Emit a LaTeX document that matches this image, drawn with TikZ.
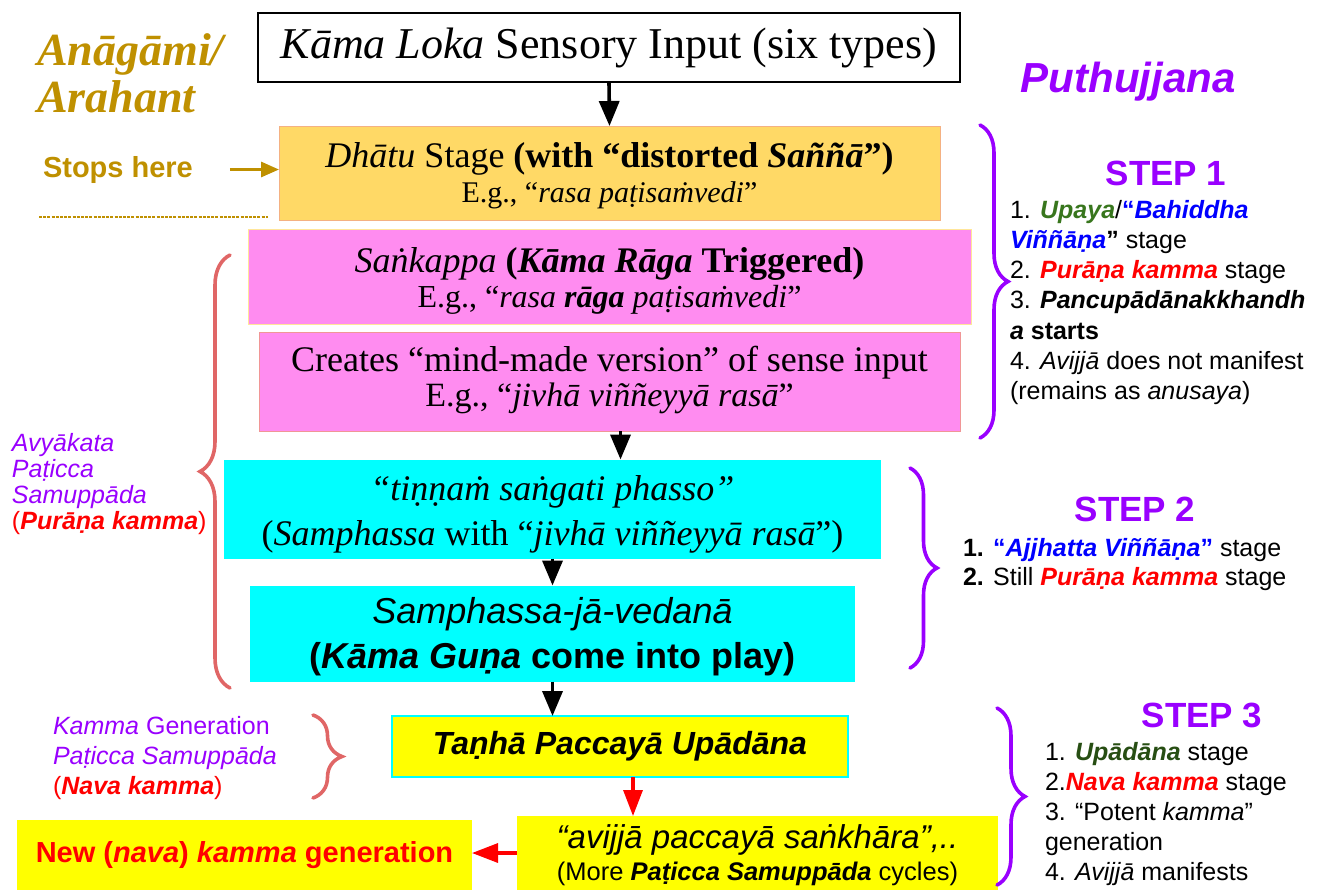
\documentclass[tikz,border=0pt]{standalone}
\usepackage{fontspec}
\setmainfont{Liberation Serif}
\setsansfont{Liberation Sans}
\usetikzlibrary{arrows.meta,decorations.pathreplacing}
\definecolor{gold}{RGB}{191,144,0}
\definecolor{dhatufill}{RGB}{255,217,102}
\definecolor{dhatuborder}{RGB}{244,177,131}
\definecolor{pinkfill}{RGB}{255,140,240}
\definecolor{sankborder}{RGB}{255,230,153}
\definecolor{createsborder}{RGB}{240,150,150}
\definecolor{cyanfill}{RGB}{0,255,255}
\definecolor{yel}{RGB}{255,255,0}
\definecolor{purp}{RGB}{153,0,255}
\definecolor{salmon}{RGB}{224,102,102}
\definecolor{dkgreen}{RGB}{56,118,29}
\definecolor{dkgreenb}{RGB}{39,78,19}
\definecolor{pureblue}{RGB}{0,0,255}
\definecolor{purered}{RGB}{255,0,0}
\newcommand\fs[2]{\fontsize{#1}{#2}\selectfont}
\newcommand\bi[1]{\textbf{\textit{#1}}}
\newcommand\rowsC[1]{\begin{tabular}{@{}c@{}}#1\end{tabular}}
\newcommand\rowsL[1]{\begin{tabular}[t]{@{}l@{}}#1\end{tabular}}
\begin{document}
\begin{tikzpicture}[x=1pt,y=-1pt,
  box/.style={rectangle, inner sep=0pt, outer sep=0pt, line width=1pt},
  arr/.style={line width=3.6pt, -{Triangle[length=25pt,width=20pt]}},
  redarr/.style={line width=3.3pt, draw=purered, -{Triangle[length=26pt,width=19pt]}},
  goldarr/.style={line width=3pt, draw=gold, -{Triangle[length=18pt,width=15pt]}},
  brc/.style={decorate, decoration={brace, amplitude=#1}, line width=3.6pt, line cap=round},
  lbl/.style={inner sep=0pt, outer sep=0pt},
]
\useasboundingbox (0,0) rectangle (1321,892);

% ---------- central flow ----------
\node[box, draw=black, line width=2.6pt, fill=white, minimum width=702pt, minimum height=69pt,
      font=\fs{44}{50}] (top) at (609,47.5) {\textit{Kāma Loka} Sensory Input (six types)};

\node[box, draw=dhatuborder, fill=dhatufill, minimum width=661pt, minimum height=94pt,
      font=\fs{36}{34.5}] (dhatu) at (609.5,173)
  {\rowsC{\rule{0pt}{34pt}\textit{Dhātu} Stage \textbf{(with “distorted \textit{Saññā}”)}\\
          \fs{30}{34.5}E.g., “\textit{rasa paṭisaṁvedi}”}};

\node[box, draw=sankborder, fill=pinkfill, minimum width=723pt, minimum height=95pt,
      font=\fs{36}{35}] (sank) at (609.5,276.5)
  {\rowsC{\rule{0pt}{36.5pt}\textit{Saṅkappa} \textbf{(\textit{Kāma Rāga} Triggered)}\\
          \fs{32}{35}E.g., “\textit{rasa \textbf{rāga} paṭisaṁvedi}”}};

\node[box, draw=createsborder, fill=pinkfill, minimum width=701pt, minimum height=99pt,
      font=\fs{36}{35}] (creates) at (609.5,381.5)
  {\rowsC{Creates “mind-made version” of sense input\\
          \fs{34}{35}E.g., “\textit{jivhā viññeyyā rasā}”}};

\node[box, fill=cyanfill, minimum width=657pt, minimum height=90pt,
      font=\fs{36}{45}] (cyan1) at (552.5,509)
  {\rowsC{\rule{0pt}{40.5pt}\textit{“tiṇṇaṁ saṅgati phasso”}\\
          (\textit{Samphassa} with “\textit{jivhā viññeyyā rasā}”)}};

\node[box, fill=cyanfill, minimum width=605pt, minimum height=79pt,
      font=\sffamily\fs{36}{45}] (cyan2) at (552.5,633.5)
  {\rowsC{\rule{0pt}{37.5pt}\textit{Samphassa-jā-vedanā}\\
          \textbf{(\textit{Kāma Guṇa} come into play)}}};

\node[box, draw=cyanfill, line width=1.5pt, fill=yel, minimum width=456pt, minimum height=61pt,
      font=\sffamily\bfseries\itshape\fs{32}{38}] (tanha) at (620,746.5) {Taṇhā Paccayā Upādāna};

\node[box, fill=yel, minimum width=481pt, minimum height=74pt,
      font=\sffamily\fs{33}{32}] (avijja) at (757.5,853)
  {\rowsC{\rule{0pt}{31.6pt}\textit{“avijjā paccayā saṅkhāra”,..}\\
          \fs{25.5}{32}(More \bi{Paṭicca Samuppāda} cycles)}};

\node[box, fill=yel, minimum width=455pt, minimum height=70pt, text=purered,
      font=\sffamily\bfseries\fs{29}{34}] (new) at (244.5,855)
  {New (\textit{nava}) \textit{kamma} generation};

% ---------- connectors ----------
\draw[arr] (top.south) -- (dhatu.north);
\draw[arr] ([xshift=11pt]creates.south) -- ([xshift=11pt]creates.south |- cyan1.north);
\draw[arr] (cyan1.south) -- (cyan2.north);
\draw[arr] (cyan2.south) -- (cyan2.south |- tanha.north);
\draw[redarr] ([xshift=13pt]tanha.south) -- ([xshift=13pt]tanha.south |- avijja.north);
\draw[redarr] (avijja.west) -- (avijja.west -| new.east);

% ---------- left side ----------
\node[lbl, anchor=base west, text=gold, font=\bfseries\itshape\fs{46}{47}] (anagami) at (37,65)
  {\rowsL{Anāgāmi/\\Arahant}};
\node[lbl, anchor=base west, text=gold, font=\sffamily\bfseries\fs{29}{34}] (stops) at (43,177) {Stops here};
\draw[goldarr] ([xshift=37pt]stops.east) -- (stops.east -| dhatu.west);
\coordinate (dl1) at (39,217);
\coordinate (dl2) at (268,217);
\draw[gold, line width=1.3pt, dash pattern=on 3pt off 1.2pt] (dl1) -- (dl2);

\coordinate (lb1) at (230,688);
\coordinate (lb2) at (230,255);
\draw[brc=30pt, salmon] (lb1) -- (lb2);
\node[lbl, anchor=base west, text=purp, font=\sffamily\itshape\fs{25}{26}] (avyakata) at (12,451)
  {\rowsL{Avyākata\\Paṭicca\\Samuppāda\\\textcolor{purered}{\upshape(\bi{Purāṇa kamma})}}};

\coordinate (kb1) at (313,715);
\coordinate (kb2) at (313,798);
\draw[brc=29pt, salmon] (kb1) -- (kb2);
\node[lbl, anchor=base west, text=purp, font=\sffamily\fs{25}{30}] (kammagen) at (53,734)
  {\rowsL{\textit{Kamma} Generation\\\textit{Paṭicca Samuppāda}\\\textcolor{purered}{(\bi{Nava kamma})}}};

% ---------- right side ----------
\node[lbl, anchor=base, text=purp, font=\sffamily\bfseries\itshape\fs{42}{48}] (puthu) at (1128,92) {Puthujjana};

\coordinate (s1a) at (980,125);
\coordinate (s1b) at (980,438);
\draw[brc=28pt, purp] (s1a) -- (s1b);
\node[lbl, anchor=base, text=purp, font=\sffamily\bfseries\fs{35}{40}] (step1) at (1166,185) {STEP 1};
\node[lbl, anchor=base west, font=\sffamily\fs{25}{30.3}] (list1) at (1010,218)
  {\rowsL{1. \textcolor{dkgreen}{\bi{Upaya}}/\textcolor{pureblue}{\textbf{“\textit{Bahiddha}}}\\
          \textcolor{pureblue}{\bi{Viññāṇa}}\textbf{”} stage\\
          2. \textcolor{purered}{\bi{Purāṇa kamma}} stage\\
          3. \bi{Pancupādānakkhandh}\\
          \textbf{\textit{a} starts}\\
          4. \textit{Avijjā} does not manifest\\
          (remains as \textit{anusaya})}};

\coordinate (s2a) at (910,468);
\coordinate (s2b) at (910,668);
\draw[brc=27pt, purp] (s2a) -- (s2b);
\node[lbl, anchor=base, text=purp, font=\sffamily\bfseries\fs{35}{40}] (step2) at (1135,521) {STEP 2};
\node[lbl, anchor=base west, font=\sffamily\fs{25}{29.5}] (list2) at (963,556)
  {\rowsL{\textbf{1.} \textcolor{pureblue}{\textbf{“\textit{Ajjhatta Viññāṇa}”}} stage\\
          \textbf{2.} Still \textcolor{purered}{\bi{Purāṇa kamma}} stage}};

\coordinate (s3a) at (997,708);
\coordinate (s3b) at (997,885);
\draw[brc=28pt, purp] (s3a) -- (s3b);
\node[lbl, anchor=base, text=purp, font=\sffamily\bfseries\fs{35}{40}] (step3) at (1202,727) {STEP 3};
\node[lbl, anchor=base west, font=\sffamily\fs{25}{30}] (list3) at (1045,760)
  {\rowsL{1. \textcolor{dkgreenb}{\bi{Upādāna}} stage\\
          2.\textcolor{purered}{\bi{Nava kamma}} stage\\
          3. “Potent \textit{kamma}”\\
          generation\\
          4. \textit{Avijjā} manifests}};
\end{tikzpicture}
\end{document}
